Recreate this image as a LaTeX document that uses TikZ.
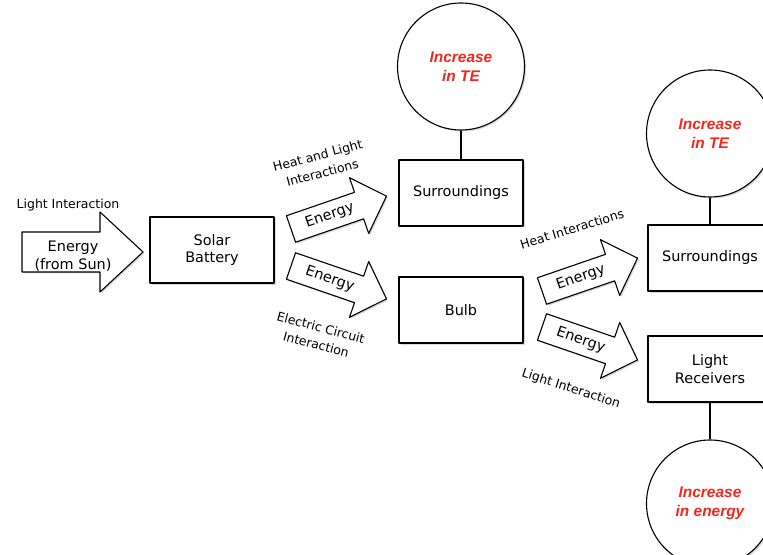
\documentclass[tikz,border=0pt]{standalone}
\usepackage{fontspec}
\setmainfont{DejaVu Sans}
\newfontfamily\incfont{Liberation Sans}
\usetikzlibrary{shadows}
\definecolor{incred}{RGB}{240,40,30}

\begin{document}
\begin{tikzpicture}[x=1bp,y=-1bp,line join=round,
  shade/.style={drop shadow={shadow xshift=1.5bp,shadow yshift=-1.5bp,opacity=0.3}},
  box/.style={draw,line width=1.1bp,fill=white,shade,minimum width=124bp,minimum height=66bp,
    align=center,font=\fontsize{14.5}{17.5}\selectfont},
  ball/.style={draw,circle,line width=1.1bp,fill=white,shade,minimum size=127bp,inner sep=0pt,
    align=center,text=incred,font=\incfont\bfseries\itshape\fontsize{15.5}{19}\selectfont},
  fat/.style={draw,line width=1.1bp,fill=white,shade},
  nrg/.style={inner sep=0pt,align=center,font=\fontsize{14.5}{17.5}\selectfont},
  lbl/.style={inner sep=0pt,align=center,font=\fontsize{12.5}{18}\selectfont},
  link/.style={line width=1.1bp}]
\useasboundingbox (0,0) rectangle (763,555);
\clip (0,0) rectangle (763,555);

% boxes and circles
\node[box] (battery) at (212,250) {Solar\\Battery};
\node[box] (surr1) at (461,193) {Surroundings};
\node[box] (bulb) at (461,310) {Bulb};
\node[box] (surr2) at (710,258) {Surroundings};
\node[box] (recv) at (710,369) {Light\\Receivers};
\node[ball] (te1) at (461,66.5) {Increase\\in TE};
\node[ball] (te2) at (710,133.5) {Increase\\in TE};
\node[ball] (gain) at (710,503.5) {Increase\\in energy};
\draw[link] (te1) -- (surr1);
\draw[link] (te2) -- (surr2);
\draw[link] (recv) -- (gain);

% energy from the sun
\begin{scope}[shift={(22,252)}]
\draw[fat] (0,-20) -- (78,-20) -- (78,-40) -- (121,0) -- (78,40) -- (78,20) -- (0,20) -- cycle;
\node[nrg] (sun) at (51,4) {Energy\\(from Sun)};
\end{scope}

% battery to surroundings and bulb
\begin{scope}[shift={(291,229)},rotate=19]
\draw[fat] (0,-14) -- (72,-14) -- (72,-29.5) -- (101,0) -- (72,29.5) -- (72,14) -- (0,14) -- cycle;
\node[nrg,rotate=19] (e1) at (41,0) {Energy};
\end{scope}
\begin{scope}[shift={(291,266)},rotate=-19]
\draw[fat] (0,-14) -- (72,-14) -- (72,-29.5) -- (101,0) -- (72,29.5) -- (72,14) -- (0,14) -- cycle;
\node[nrg,rotate=-19] (e2) at (41,0) {Energy};
\end{scope}

% bulb to surroundings and receivers
\begin{scope}[shift={(542,291)},rotate=19]
\draw[fat] (0,-14) -- (72,-14) -- (72,-29.5) -- (101,0) -- (72,29.5) -- (72,14) -- (0,14) -- cycle;
\node[nrg,rotate=19] (e3) at (41,0) {Energy};
\end{scope}
\begin{scope}[shift={(542,327)},rotate=-19]
\draw[fat] (0,-14) -- (72,-14) -- (72,-29.5) -- (101,0) -- (72,29.5) -- (72,14) -- (0,14) -- cycle;
\node[nrg,rotate=-19] (e4) at (41,0) {Energy};
\end{scope}

% interaction labels
\node[lbl] (lightin) at (68,205) {Light Interaction};
\node[lbl,rotate=15] (heatlight) at (320,164) {Heat and Light\\Interactions};
\node[lbl,rotate=-15] (circuit) at (318.5,336) {Electric Circuit\\Interaction};
\node[lbl,rotate=17] (heatin) at (572,229) {Heat Interactions};
\node[lbl,rotate=-18] (lightout) at (571,389) {Light Interaction};
\end{tikzpicture}
\end{document}
